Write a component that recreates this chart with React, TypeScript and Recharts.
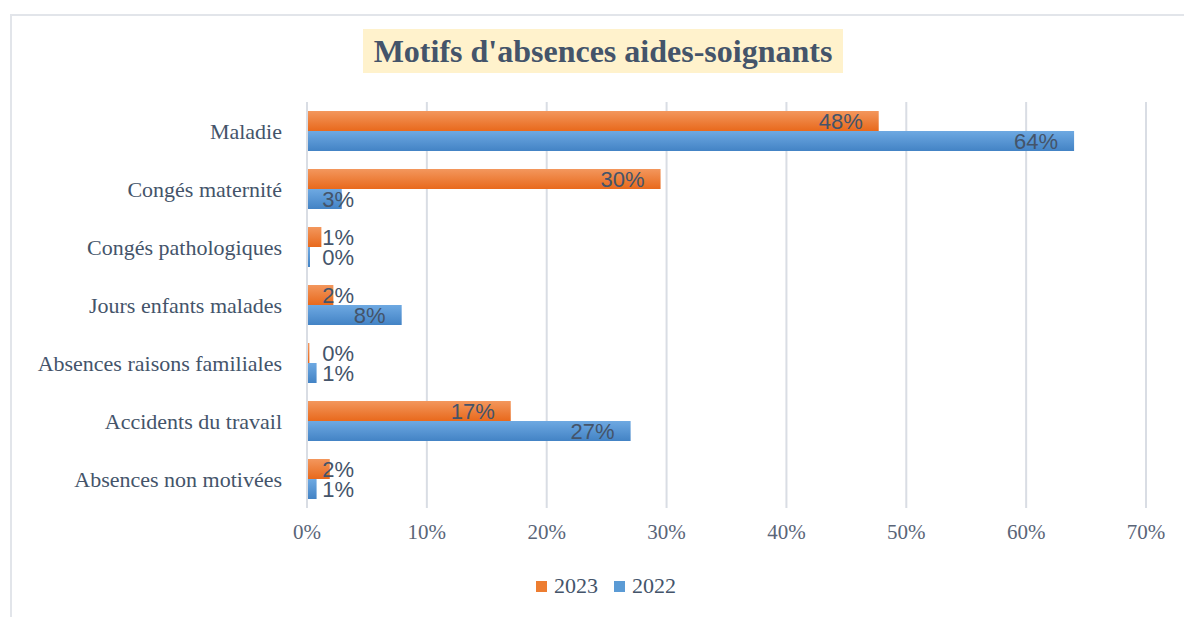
import React from 'react';
import { BarChart, Bar, XAxis, YAxis, CartesianGrid, Legend, LabelList } from 'recharts';

// motifs, top to bottom
const motifs = [
  'Maladie',
  'Congés maternité',
  'Congés pathologiques',
  'Jours enfants malades',
  'Absences raisons familiales',
  'Accidents du travail',
  'Absences non motivées',
];

// share of absences, in %
const values2023 = [47.7, 29.5, 1.2, 2.2, 0.2, 17.0, 1.9];
const values2022 = [64.0, 2.9, 0.25, 7.9, 0.8, 27.0, 0.8];

const xTicks = [0, 10, 20, 30, 40, 50, 60, 70];

const data = motifs.map((m, i) => ({ motif: m, y2023: values2023[i], y2022: values2022[i] }));

const SERIF = '"Liberation Serif", "DejaVu Serif", serif';
const SLATE = '#44546A';
const GRID = '#D9DDE4';

// Excel-like "inside end" label, pushed out when the bar is too short
const renderValue = (props: any) => {
  const { x, y, width, height, value } = props;
  const bx = Number(x), bw = Number(width);
  const right = Math.max(bx + bw - 16, bx + 47);
  return (
    <text
      x={right}
      y={Number(y) + Number(height) / 2}
      dy="0.36em"
      textAnchor="end"
      fill={SLATE}
      fontFamily='"Liberation Sans", Arial, sans-serif'
      fontSize={22}
    >
      {Math.round(Number(value))}%
    </text>
  );
};

const renderLegend = () => (
  <div style={{ height: 22, display: 'flex', justifyContent: 'center', alignItems: 'center', paddingLeft: 56, fontFamily: SERIF, fontSize: 22, color: SLATE }}>
    <span style={{ display: 'inline-block', width: 11, height: 11, background: '#ED7D31', marginRight: 7 }} />
    <span style={{ marginRight: 16 }}>2023</span>
    <span style={{ display: 'inline-block', width: 11, height: 11, background: '#5B9BD5', marginRight: 7 }} />
    <span>2022</span>
  </div>
);

export default function App() {
  return (
    <div style={{ position: 'absolute', left: 0, top: 0, width: 1184, height: 617, overflow: 'hidden', background: '#fff' }}>
      <div style={{ position: 'absolute', left: 10, top: 14, width: 1200, height: 640, border: '2px solid #E2E5EA', boxSizing: 'border-box' }} />
      <div
        style={{
          position: 'absolute', left: 363, top: 29, width: 480, height: 44,
          background: '#FFF2CC', display: 'flex', alignItems: 'center', justifyContent: 'center',
          fontFamily: SERIF, fontWeight: 'bold', fontSize: 32, color: SLATE, whiteSpace: 'nowrap',
        }}
      >
        Motifs d'absences aides-soignants
      </div>
      <div style={{ position: 'absolute', left: 0, top: 0 }}>
        <BarChart
          width={1184}
          height={617}
          data={data}
          layout="vertical"
          margin={{ top: 102, right: 38, bottom: 20, left: 10 }}
          barCategoryGap={9}
          barGap={0}
        >
          <defs>
            <linearGradient id="g2023" x1="0" y1="0" x2="0" y2="1">
              <stop offset="0%" stopColor="#F3975D" />
              <stop offset="100%" stopColor="#E8691C" />
            </linearGradient>
            <linearGradient id="g2022" x1="0" y1="0" x2="0" y2="1">
              <stop offset="0%" stopColor="#6EA9E2" />
              <stop offset="100%" stopColor="#4383C5" />
            </linearGradient>
          </defs>
          <CartesianGrid horizontal={false} stroke={GRID} strokeWidth={2} />
          <XAxis
            type="number"
            domain={[0, 70]}
            ticks={xTicks}
            tickFormatter={(v) => `${v}%`}
            axisLine={false}
            tickLine={false}
            tickSize={0}
            tickMargin={16}
            height={67}
            tick={{ fill: '#5A6578', fontFamily: SERIF, fontSize: 21 }}
          />
          <YAxis
            type="category"
            dataKey="motif"
            width={297}
            axisLine={{ stroke: GRID, strokeWidth: 2 }}
            tickLine={false}
            tickSize={0}
            tickMargin={25}
            interval={0}
            tick={{ fill: SLATE, fontFamily: SERIF, fontSize: 22 }}
          />
          <Legend verticalAlign="bottom" content={renderLegend} />
          <Bar dataKey="y2023" name="2023" fill="url(#g2023)" isAnimationActive={false}>
            <LabelList dataKey="y2023" content={renderValue} />
          </Bar>
          <Bar dataKey="y2022" name="2022" fill="url(#g2022)" isAnimationActive={false}>
            <LabelList dataKey="y2022" content={renderValue} />
          </Bar>
        </BarChart>
      </div>
    </div>
  );
}
